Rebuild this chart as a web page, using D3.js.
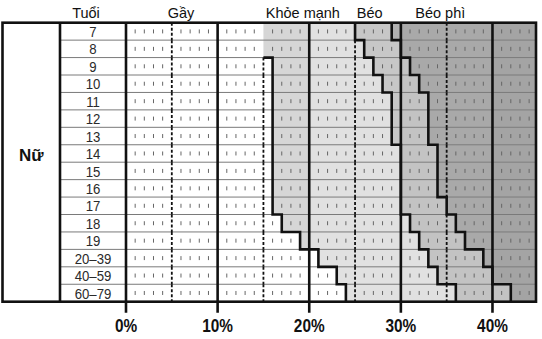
<!DOCTYPE html>
<html>
<head>
<meta charset="utf-8">
<script src="https://cdn.jsdelivr.net/npm/d3@7/dist/d3.min.js"></script>
<style>
  html, body { margin: 0; padding: 0; background: #fff; }
  svg { display: block; }
  .hdr { font-family: "Liberation Sans", Arial, sans-serif; font-size: 14.5px; fill: #111; }
  .age { font-family: "Liberation Sans", Arial, sans-serif; font-size: 15.5px; fill: #2a2a2a; }
  .pct { font-family: "Liberation Sans", Arial, sans-serif; font-size: 17.5px; font-weight: bold; fill: #111; }
  .grp { font-family: "Liberation Sans", Arial, sans-serif; font-size: 17px; font-weight: bold; fill: #111; }
</style>
</head>
<body>
<svg id="chart" width="542" height="339"></svg>
<script>
// Body-fat ranges for girls and women by age (percent body fat)
const ages = ["7", "8", "9", "10", "11", "12", "13", "14", "15", "16", "17", "18", "19", "20–39", "40–59", "60–79"];
// lower limit of the healthy range (below = Gầy)
const healthyFrom = [15, 15, 16, 16, 16, 16, 16, 16, 16, 16, 16, 17, 19, 21, 23, 24];
// lower limit of the overweight range (Béo)
const overFrom = [25, 26, 27, 28, 29, 29, 29, 30, 30, 30, 30, 31, 32, 33, 34, 36];
// lower limit of the obese range (Béo phì)
const obeseFrom = [29, 30, 31, 32, 33, 33, 33, 34, 34, 34, 35, 36, 37, 39, 40, 42];

const axisTicks = [0, 10, 20, 30, 40];
const halfTicks = [5, 15, 25, 35];
const headers = [
  { text: "Gầy", at: 6.0 },
  { text: "Khỏe mạnh", at: 19.3 },
  { text: "Béo", at: 26.6 },
  { text: "Béo phì", at: 34.3 }
];
const groupLabel = "Nữ";
const ageHeader = "Tuổi";

const svg = d3.select("#chart");

const frameL = 2.5, ageCol = 60, plotL = 126, plotR = 536, plotT = 22.7, plotB = 301.7;
const xMax = 44.75;
const x = d3.scaleLinear().domain([0, xMax]).range([plotL, plotR]);
const y = d3.scaleBand().domain(ages).range([plotT, plotB]);

// shade for each class, varying slightly per 10% column
const shade = {
  under:   () => "#ffffff",
  healthy: b => b <= 1 ? "#d6d6d6" : "#e1e1e1",
  over:    b => b <= 2 ? "#c7c7c7" : "#c3c3c3",
  obese:   b => b <= 2 ? "#b0b0b0" : (b === 3 ? "#a9a9a9" : "#a4a4a4")
};

// build class segments per row, split at 10% column edges
const segs = [];
ages.forEach((a, i) => {
  const ranges = [
    { cls: "under", from: 0, to: healthyFrom[i] },
    { cls: "healthy", from: healthyFrom[i], to: overFrom[i] },
    { cls: "over", from: overFrom[i], to: obeseFrom[i] },
    { cls: "obese", from: obeseFrom[i], to: xMax }
  ];
  ranges.forEach(r => {
    let s = r.from;
    while (s < r.to) {
      const band = Math.floor(s / 10 + 1e-9);
      const e = Math.min(r.to, (band + 1) * 10);
      segs.push({ age: a, from: s, to: e, fill: shade[r.cls](band) });
      s = e;
    }
  });
});

svg.append("g").selectAll("rect").data(segs).join("rect")
  .attr("x", d => x(d.from))
  .attr("y", d => y(d.age))
  .attr("width", d => x(d.to) - x(d.from))
  .attr("height", y.bandwidth())
  .attr("fill", d => d.fill);

// row separators
svg.append("g").selectAll("line").data(ages.slice(1)).join("line")
  .attr("x1", ageCol).attr("x2", plotR)
  .attr("y1", d => y(d)).attr("y2", d => y(d))
  .attr("stroke", "#7a7a7a").attr("stroke-width", 1);

// small 1% ticks inside each row
const minor = d3.range(1, 45).filter(v => v % 5 !== 0);
const tickG = svg.append("g");
ages.forEach(a => {
  const cy = y(a) + y.bandwidth() / 2;
  tickG.append("g").selectAll("line").data(minor).join("line")
    .attr("x1", d => x(d)).attr("x2", d => x(d))
    .attr("y1", cy - 2).attr("y2", cy + 2)
    .attr("stroke", "#666").attr("stroke-width", 1);
});

// dashed 5% lines, drawn row by row; left out where a class edge sits on them
const dashG = svg.append("g");
ages.forEach((a, i) => {
  const edges = [healthyFrom[i], overFrom[i], obeseFrom[i]];
  dashG.append("g").selectAll("line")
    .data(halfTicks.filter(v => !edges.includes(v)))
    .join("line")
    .attr("x1", d => x(d)).attr("x2", d => x(d))
    .attr("y1", y(a)).attr("y2", y(a) + y.bandwidth())
    .attr("stroke", "#111").attr("stroke-width", 1.8)
    .attr("stroke-dasharray", "3,2");
});

// solid 10% lines, extending below as axis ticks
svg.append("g").selectAll("line").data(axisTicks).join("line")
  .attr("x1", d => x(d)).attr("x2", d => x(d))
  .attr("y1", plotT).attr("y2", plotB + 11)
  .attr("stroke", "#111").attr("stroke-width", 2.6);

// stepped class boundaries
function stepPoints(vals, startRow) {
  const pts = [];
  if (startRow > 0) pts.push([x(vals[startRow - 1]), y(ages[startRow])]);
  for (let i = startRow; i < ages.length; i++) {
    pts.push([x(vals[i]), y(ages[i])]);
    pts.push([x(vals[i]), y(ages[i]) + y.bandwidth()]);
  }
  return pts;
}
const line = d3.line();
[[healthyFrom, 2], [overFrom, 0], [obeseFrom, 0]].forEach(([vals, s]) => {
  svg.append("path")
    .attr("d", line(stepPoints(vals, s)))
    .attr("fill", "none").attr("stroke", "#111")
    .attr("stroke-width", 2.6).attr("stroke-linejoin", "miter");
});

// frame
svg.append("rect")
  .attr("x", frameL).attr("y", plotT)
  .attr("width", plotR - frameL).attr("height", plotB - plotT)
  .attr("fill", "none").attr("stroke", "#111").attr("stroke-width", 2.6);
svg.append("line")
  .attr("x1", ageCol).attr("x2", ageCol).attr("y1", plotT).attr("y2", plotB)
  .attr("stroke", "#111").attr("stroke-width", 2.6);

// age labels (condensed)
svg.append("g").selectAll("text").data(ages).join("text")
  .attr("class", "age")
  .attr("transform", d => `translate(${(ageCol + plotL) / 2},${y(d) + y.bandwidth() / 2 + 5.6}) scale(0.85,1)`)
  .attr("text-anchor", "middle")
  .text(d => d);

// headers
svg.append("text").attr("class", "hdr")
  .attr("x", 86).attr("y", 17.5).attr("text-anchor", "middle").text(ageHeader);
svg.append("g").selectAll("text").data(headers).join("text")
  .attr("class", "hdr")
  .attr("x", d => x(d.at)).attr("y", 17.5)
  .attr("text-anchor", "middle")
  .text(d => d.text);

// group label
svg.append("text").attr("class", "grp")
  .attr("x", (frameL + ageCol) / 2).attr("y", 161)
  .attr("text-anchor", "middle").text(groupLabel);

// percent axis labels (condensed bold)
svg.append("g").selectAll("text").data(axisTicks).join("text")
  .attr("class", "pct")
  .attr("transform", d => `translate(${x(d)},332) scale(0.88,1)`)
  .attr("text-anchor", "middle")
  .text(d => d + "%");
</script>
</body>
</html>
